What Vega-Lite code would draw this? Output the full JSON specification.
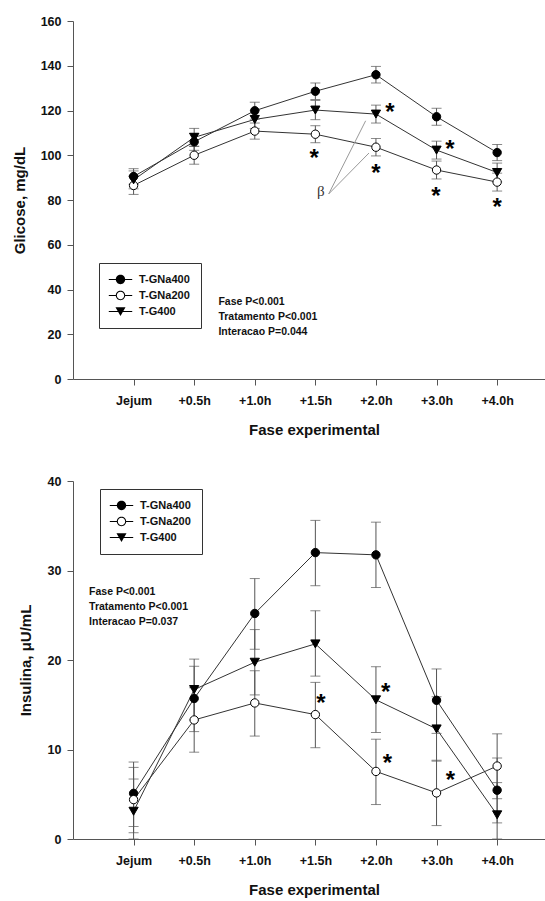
{
  "$schema": "https://vega.github.io/schema/vega-lite/v6.json",
  "background": "white",
  "padding": {"left": 12, "top": 15, "right": 0, "bottom": 0},
  "spacing": 37,
  "resolve": {"scale": {"shape": "independent", "fill": "independent"}, "legend": {"shape": "independent", "fill": "independent"}},
  "config": {
    "view": {"stroke": null},
    "font": "Liberation Sans",
    "axis": {
      "grid": false,
      "domainColor": "#555",
      "tickColor": "#555",
      "tickSize": 6,
      "labelFont": "Liberation Sans",
      "labelFontWeight": "bold",
      "labelFontSize": 12.5,
      "labelColor": "#111",
      "titleFont": "Liberation Sans",
      "titleFontWeight": "bold",
      "titleFontSize": 15,
      "titleColor": "#111"
    },
    "legend": {
      "orient": "none",
      "strokeColor": "#333",
      "strokeWidth": 1,
      "padding": 11,
      "rowPadding": 4,
      "labelFont": "Liberation Sans",
      "labelFontWeight": "bold",
      "labelFontSize": 11,
      "labelColor": "#111",
      "symbolSize": 70,
      "symbolOffset": 5,
      "labelOffset": 13,
      "symbolFillColor": "black",
      "symbolStrokeWidth": 0,
      "title": null
    }
  },
  "datasets": {
    "glicose": [
      {"t": 1, "fase": "Jejum", "grupo": "T-GNa400", "media": 90.5, "lo": 87.0, "hi": 94.0},
      {"t": 2, "fase": "+0.5h", "grupo": "T-GNa400", "media": 106.0, "lo": 102.2, "hi": 109.8},
      {"t": 3, "fase": "+1.0h", "grupo": "T-GNa400", "media": 119.9, "lo": 116.1, "hi": 123.7},
      {"t": 4, "fase": "+1.5h", "grupo": "T-GNa400", "media": 128.6, "lo": 124.9, "hi": 132.3},
      {"t": 5, "fase": "+2.0h", "grupo": "T-GNa400", "media": 136.0, "lo": 132.3, "hi": 139.7},
      {"t": 6, "fase": "+3.0h", "grupo": "T-GNa400", "media": 117.2, "lo": 113.4, "hi": 121.0},
      {"t": 7, "fase": "+4.0h", "grupo": "T-GNa400", "media": 101.2, "lo": 97.6, "hi": 104.8},
      {"t": 1, "fase": "Jejum", "grupo": "T-GNa200", "media": 86.5, "lo": 82.5, "hi": 90.5},
      {"t": 2, "fase": "+0.5h", "grupo": "T-GNa200", "media": 100.0, "lo": 96.0, "hi": 104.0},
      {"t": 3, "fase": "+1.0h", "grupo": "T-GNa200", "media": 110.8, "lo": 107.2, "hi": 114.4},
      {"t": 4, "fase": "+1.5h", "grupo": "T-GNa200", "media": 109.4, "lo": 105.6, "hi": 113.2},
      {"t": 5, "fase": "+2.0h", "grupo": "T-GNa200", "media": 103.6, "lo": 99.7, "hi": 107.5},
      {"t": 6, "fase": "+3.0h", "grupo": "T-GNa200", "media": 93.4, "lo": 89.4, "hi": 97.4},
      {"t": 7, "fase": "+4.0h", "grupo": "T-GNa200", "media": 88.0, "lo": 84.0, "hi": 92.0},
      {"t": 1, "fase": "Jejum", "grupo": "T-G400", "media": 89.0, "lo": 85.0, "hi": 93.0},
      {"t": 2, "fase": "+0.5h", "grupo": "T-G400", "media": 108.0, "lo": 104.0, "hi": 112.0},
      {"t": 3, "fase": "+1.0h", "grupo": "T-G400", "media": 116.0, "lo": 112.0, "hi": 120.0},
      {"t": 4, "fase": "+1.5h", "grupo": "T-G400", "media": 120.2, "lo": 115.9, "hi": 124.5},
      {"t": 5, "fase": "+2.0h", "grupo": "T-G400", "media": 118.4, "lo": 114.4, "hi": 122.4},
      {"t": 6, "fase": "+3.0h", "grupo": "T-G400", "media": 102.3, "lo": 98.3, "hi": 106.3},
      {"t": 7, "fase": "+4.0h", "grupo": "T-G400", "media": 92.3, "lo": 88.1, "hi": 96.5}
    ],
    "insulina": [
      {"t": 1, "fase": "Jejum", "grupo": "T-GNa400", "media": 5.1, "lo": 1.4, "hi": 8.6},
      {"t": 2, "fase": "+0.5h", "grupo": "T-GNa400", "media": 15.7, "lo": 12.0, "hi": 19.3},
      {"t": 3, "fase": "+1.0h", "grupo": "T-GNa400", "media": 25.2, "lo": 21.2, "hi": 29.1},
      {"t": 4, "fase": "+1.5h", "grupo": "T-GNa400", "media": 32.0, "lo": 28.3, "hi": 35.6},
      {"t": 5, "fase": "+2.0h", "grupo": "T-GNa400", "media": 31.75, "lo": 28.1, "hi": 35.4},
      {"t": 6, "fase": "+3.0h", "grupo": "T-GNa400", "media": 15.5, "lo": 11.8, "hi": 19.0},
      {"t": 7, "fase": "+4.0h", "grupo": "T-GNa400", "media": 5.45, "lo": 1.8, "hi": 9.05},
      {"t": 1, "fase": "Jejum", "grupo": "T-GNa200", "media": 4.4, "lo": 0.7, "hi": 8.0},
      {"t": 2, "fase": "+0.5h", "grupo": "T-GNa200", "media": 13.3, "lo": 9.7, "hi": 16.9},
      {"t": 3, "fase": "+1.0h", "grupo": "T-GNa200", "media": 15.2, "lo": 11.5, "hi": 18.8},
      {"t": 4, "fase": "+1.5h", "grupo": "T-GNa200", "media": 13.9, "lo": 10.2, "hi": 17.5},
      {"t": 5, "fase": "+2.0h", "grupo": "T-GNa200", "media": 7.55, "lo": 3.85, "hi": 11.15},
      {"t": 6, "fase": "+3.0h", "grupo": "T-GNa200", "media": 5.15, "lo": 1.5, "hi": 8.8},
      {"t": 7, "fase": "+4.0h", "grupo": "T-GNa200", "media": 8.15, "lo": 4.5, "hi": 11.75},
      {"t": 1, "fase": "Jejum", "grupo": "T-G400", "media": 3.1, "lo": 0.0, "hi": 6.7},
      {"t": 2, "fase": "+0.5h", "grupo": "T-G400", "media": 16.7, "lo": 13.3, "hi": 20.1},
      {"t": 3, "fase": "+1.0h", "grupo": "T-G400", "media": 19.75, "lo": 16.1, "hi": 23.4},
      {"t": 4, "fase": "+1.5h", "grupo": "T-G400", "media": 21.8, "lo": 18.2, "hi": 25.5},
      {"t": 5, "fase": "+2.0h", "grupo": "T-G400", "media": 15.55, "lo": 11.9, "hi": 19.25},
      {"t": 6, "fase": "+3.0h", "grupo": "T-G400", "media": 12.3, "lo": 8.7, "hi": 15.9},
      {"t": 7, "fase": "+4.0h", "grupo": "T-G400", "media": 2.7, "lo": 0.0, "hi": 6.3}
    ],
    "ast_glicose": [
      {"t": 3.98, "y": 100.9},
      {"t": 5.23, "y": 121.4},
      {"t": 5.0, "y": 94.2},
      {"t": 6.22, "y": 105.0},
      {"t": 5.99, "y": 84.2},
      {"t": 7.0, "y": 79.2}
    ],
    "ast_insulina": [
      {"t": 4.09, "y": 15.8},
      {"t": 5.16, "y": 16.95},
      {"t": 5.19, "y": 9.1},
      {"t": 6.23, "y": 7.2}
    ],
    "beta_linhas": [
      {"t1": 4.22, "y1": 82.7, "t2": 4.83, "y2": 115.4},
      {"t1": 4.22, "y1": 82.7, "t2": 4.885, "y2": 101.0}
    ],
    "beta": [{"t": 4.09, "y": 83.8, "txt": "β"}],
    "stats_glicose": [{"t": 2.40, "y": 34.55, "txt": "Fase P<0.001\nTratamento P<0.001\nInteracao P=0.044"}],
    "stats_insulina": [{"t": 0.265, "y": 27.65, "txt": "Fase P<0.001\nTratamento P<0.001\nInteracao P=0.037"}]
  },
  "vconcat": [
    {
      "width": 472,
      "height": 358,
      "resolve": {"scale": {"shape": "independent", "fill": "independent"}},
      "layer": [
        {
          "data": {"name": "glicose"},
          "mark": {"type": "line", "color": "#333", "strokeWidth": 1},
          "encoding": {
            "x": {"field": "t", "type": "quantitative", "scale": {"domain": [0, 7.79], "nice": false},
              "axis": {"title": "Fase experimental", "values": [1, 2, 3, 4, 5, 6, 7], "labelPadding": 9, "titlePadding": 16, "titleX": 241,
                "labelExpr": "['', 'Jejum', '+0.5h', '+1.0h', '+1.5h', '+2.0h', '+3.0h', '+4.0h'][datum.value]"}},
            "y": {"field": "media", "type": "quantitative", "title": "Glicose, mg/dL", "scale": {"domain": [0, 160], "nice": false},
              "axis": {"values": [0, 20, 40, 60, 80, 100, 120, 140, 160], "labelPadding": 6, "titlePadding": 13}},
            "detail": {"field": "grupo", "type": "nominal"}
          }
        },
        {
          "data": {"name": "glicose"},
          "mark": {"type": "errorbar", "color": "#555", "thickness": 1, "ticks": {"size": 10, "color": "#555"}},
          "encoding": {
            "x": {"field": "t", "type": "quantitative", "title": "Fase experimental"},
            "y": {"field": "lo", "type": "quantitative", "title": "Glicose, mg/dL"},
            "y2": {"field": "hi"},
            "detail": {"field": "grupo", "type": "nominal"}
          }
        },
        {
          "data": {"name": "glicose"},
          "mark": {"type": "point", "filled": true, "stroke": "black", "strokeWidth": 1, "opacity": 1},
          "encoding": {
            "x": {"field": "t", "type": "quantitative"},
            "y": {"field": "media", "type": "quantitative"},
            "shape": {"field": "grupo", "type": "nominal", "legend": null,
              "scale": {"domain": ["T-GNa400", "T-GNa200", "T-G400"], "range": ["circle", "circle", "triangle-down"]}},
            "fill": {"field": "grupo", "type": "nominal", "legend": null,
              "scale": {"domain": ["T-GNa400", "T-GNa200", "T-G400"], "range": ["black", "white", "black"]}},
            "size": {"condition": {"test": "datum.grupo === 'T-G400'", "value": 85}, "value": 70}
          }
        },
        {
          "data": {"name": "glicose"},
          "transform": [{"filter": "datum.t < 0"}],
          "mark": {"type": "point", "filled": true, "color": "black", "opacity": 1},
          "encoding": {
            "x": {"field": "t", "type": "quantitative"},
            "y": {"field": "media", "type": "quantitative"},
            "shape": {"field": "grupo", "type": "nominal",
              "scale": {"domain": ["T-GNa400", "T-GNa200", "T-G400"],
                "range": [
                  "M-2.8,-0.12H2.8V0.12H-2.8Z M-1.12,0A1.12,1.12 0 1,1 1.12,0A1.12,1.12 0 1,1 -1.12,0Z",
                  "M-2.8,-0.12H-1V0.12H-2.8Z M1,-0.12H2.8V0.12H1Z M-1.12,0A1.12,1.12 0 1,1 1.12,0A1.12,1.12 0 1,1 -1.12,0Z M-0.88,0A0.88,0.88 0 1,0 0.88,0A0.88,0.88 0 1,0 -0.88,0Z",
                  "M-2.8,-0.12H2.8V0.12H-2.8Z M0,1.05L-1.2,-1.0L1.2,-1.0Z"]},
              "legend": {"legendX": 26, "legendY": 242}}
          }
        },
        {
          "data": {"name": "ast_glicose"},
          "mark": {"type": "text", "text": "*", "fontSize": 24, "fontWeight": "bold", "color": "black", "baseline": "middle", "dy": 6},
          "encoding": {
            "x": {"field": "t", "type": "quantitative"},
            "y": {"field": "y", "type": "quantitative"}
          }
        },
        {
          "data": {"name": "beta_linhas"},
          "mark": {"type": "rule", "color": "#999", "strokeWidth": 1},
          "encoding": {
            "x": {"field": "t1", "type": "quantitative"},
            "y": {"field": "y1", "type": "quantitative"},
            "x2": {"field": "t2"},
            "y2": {"field": "y2"}
          }
        },
        {
          "data": {"name": "beta"},
          "mark": {"type": "text", "font": "Liberation Serif", "fontSize": 15, "color": "#333", "baseline": "middle", "align": "center"},
          "encoding": {
            "x": {"field": "t", "type": "quantitative"},
            "y": {"field": "y", "type": "quantitative"},
            "text": {"field": "txt", "type": "nominal"}
          }
        },
        {
          "data": {"name": "stats_glicose"},
          "mark": {"type": "text", "fontSize": 10.5, "fontWeight": "bold", "color": "#111", "align": "left", "baseline": "middle", "lineBreak": "\n", "lineHeight": 15},
          "encoding": {
            "x": {"field": "t", "type": "quantitative"},
            "y": {"field": "y", "type": "quantitative"},
            "text": {"field": "txt", "type": "nominal"}
          }
        }
      ]
    },
    {
      "width": 472,
      "height": 358,
      "resolve": {"scale": {"shape": "independent", "fill": "independent"}},
      "layer": [
        {
          "data": {"name": "insulina"},
          "mark": {"type": "line", "color": "#333", "strokeWidth": 1},
          "encoding": {
            "x": {"field": "t", "type": "quantitative", "scale": {"domain": [0, 7.79], "nice": false},
              "axis": {"title": "Fase experimental", "values": [1, 2, 3, 4, 5, 6, 7], "labelPadding": 9, "titlePadding": 16, "titleX": 241,
                "labelExpr": "['', 'Jejum', '+0.5h', '+1.0h', '+1.5h', '+2.0h', '+3.0h', '+4.0h'][datum.value]"}},
            "y": {"field": "media", "type": "quantitative", "title": "Insulina, μU/mL", "scale": {"domain": [0, 40], "nice": false},
              "axis": {"values": [0, 10, 20, 30, 40], "labelPadding": 6, "titlePadding": 14}},
            "detail": {"field": "grupo", "type": "nominal"}
          }
        },
        {
          "data": {"name": "insulina"},
          "mark": {"type": "errorbar", "color": "#555", "thickness": 1, "ticks": {"size": 10, "color": "#555"}},
          "encoding": {
            "x": {"field": "t", "type": "quantitative", "title": "Fase experimental"},
            "y": {"field": "lo", "type": "quantitative", "title": "Insulina, μU/mL"},
            "y2": {"field": "hi"},
            "detail": {"field": "grupo", "type": "nominal"}
          }
        },
        {
          "data": {"name": "insulina"},
          "mark": {"type": "point", "filled": true, "stroke": "black", "strokeWidth": 1, "opacity": 1},
          "encoding": {
            "x": {"field": "t", "type": "quantitative"},
            "y": {"field": "media", "type": "quantitative"},
            "shape": {"field": "grupo", "type": "nominal", "legend": null,
              "scale": {"domain": ["T-GNa400", "T-GNa200", "T-G400"], "range": ["circle", "circle", "triangle-down"]}},
            "fill": {"field": "grupo", "type": "nominal", "legend": null,
              "scale": {"domain": ["T-GNa400", "T-GNa200", "T-G400"], "range": ["black", "white", "black"]}},
            "size": {"condition": {"test": "datum.grupo === 'T-G400'", "value": 85}, "value": 70}
          }
        },
        {
          "data": {"name": "insulina"},
          "transform": [{"filter": "datum.t < 0"}],
          "mark": {"type": "point", "filled": true, "color": "black", "opacity": 1},
          "encoding": {
            "x": {"field": "t", "type": "quantitative"},
            "y": {"field": "media", "type": "quantitative"},
            "shape": {"field": "grupo", "type": "nominal",
              "scale": {"domain": ["T-GNa400", "T-GNa200", "T-G400"],
                "range": [
                  "M-2.8,-0.12H2.8V0.12H-2.8Z M-1.12,0A1.12,1.12 0 1,1 1.12,0A1.12,1.12 0 1,1 -1.12,0Z",
                  "M-2.8,-0.12H-1V0.12H-2.8Z M1,-0.12H2.8V0.12H1Z M-1.12,0A1.12,1.12 0 1,1 1.12,0A1.12,1.12 0 1,1 -1.12,0Z M-0.88,0A0.88,0.88 0 1,0 0.88,0A0.88,0.88 0 1,0 -0.88,0Z",
                  "M-2.8,-0.12H2.8V0.12H-2.8Z M0,1.05L-1.2,-1.0L1.2,-1.0Z"]},
              "legend": {"legendX": 27, "legendY": 8}}
          }
        },
        {
          "data": {"name": "ast_insulina"},
          "mark": {"type": "text", "text": "*", "fontSize": 24, "fontWeight": "bold", "color": "black", "baseline": "middle", "dy": 6},
          "encoding": {
            "x": {"field": "t", "type": "quantitative"},
            "y": {"field": "y", "type": "quantitative"}
          }
        },
        {
          "data": {"name": "stats_insulina"},
          "mark": {"type": "text", "fontSize": 10.5, "fontWeight": "bold", "color": "#111", "align": "left", "baseline": "middle", "lineBreak": "\n", "lineHeight": 15},
          "encoding": {
            "x": {"field": "t", "type": "quantitative"},
            "y": {"field": "y", "type": "quantitative"},
            "text": {"field": "txt", "type": "nominal"}
          }
        }
      ]
    }
  ]
}
